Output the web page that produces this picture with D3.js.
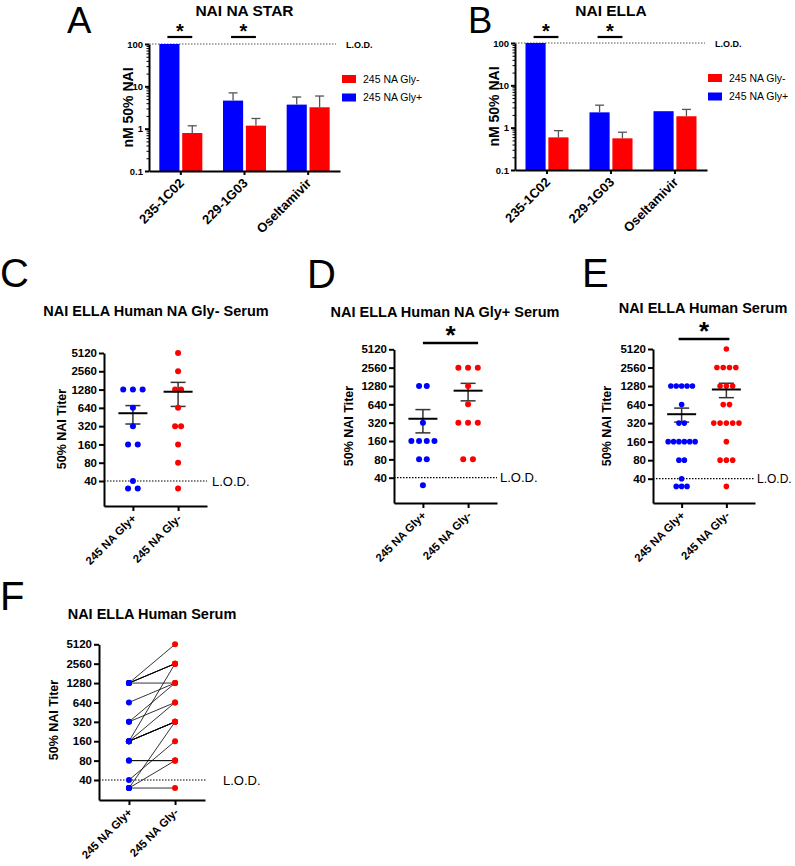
<!DOCTYPE html>
<html><head><meta charset="utf-8">
<script src="https://cdn.jsdelivr.net/npm/d3@7"></script>
<style>body{margin:0;background:#fff} svg{display:block}</style>
</head><body><svg id="chart" width="795" height="866"></svg>
<script>
// ---------- DATA ----------
const barCategories = ["235-1C02", "229-1G03", "Oseltamivir"];
const barTicks = [0.1, 1, 10, 100];
const starGlyPlus = [100, 4.6, 3.7];
const starGlyPlusErr = [0, 2.4, 1.9];
const starGlyMinus = [0.79, 1.18, 3.2];
const starGlyMinusErr = [0.38, 0.56, 2.7];
const ellaGlyPlus = [100, 2.3, 2.45];
const ellaGlyPlusErr = [0, 1.1, 0];
const ellaGlyMinus = [0.59, 0.56, 1.86];
const ellaGlyMinusErr = [0.26, 0.22, 0.84];
const seriesNames = ["245 NA Gly+", "245 NA Gly-"];
const titerTicks = [40, 80, 160, 320, 640, 1280, 2560, 5120];
// paired titers (same index = same serum); values below L.O.D. plotted as 30
const glyMinusSerumVsGlyPlus  = [1280, 1280, 1280, 640, 320, 160, 160, 40, 30, 30];
const glyMinusSerumVsGlyMinus = [5120, 2560, 1280, 1280, 640, 320, 320, 160, 80, 30];
const glyPlusSerumVsGlyPlus   = [1280, 1280, 320, 160, 160, 160, 160, 80, 80, 30];
const glyPlusSerumVsGlyMinus  = [2560, 2560, 1280, 2560, 640, 320, 320, 80, 80, 320];
const lodLabel = "L.O.D.";

// ---------- DRAWING ----------
const FONT = '"Liberation Sans", Arial, Helvetica, sans-serif';
const BLUE = "#0000ff", RED = "#ff0000";
const svg = d3.select("#chart").style("font-family", FONT);
svg.append("rect").attr("width", 795).attr("height", 866).attr("fill", "#fff");

function styleAxis(g, w, fs) {
  g.select(".domain").attr("stroke", "#000").attr("stroke-width", w);
  g.selectAll(".tick line").attr("stroke", "#000").attr("stroke-width", w);
  g.selectAll(".tick text").attr("font-family", FONT).attr("font-weight", "bold")
    .attr("fill", "#000").attr("font-size", fs);
}

function letter(txt, x, y, fs) {
  svg.append("text").attr("x", x).attr("y", y).attr("font-size", fs || 40).attr("fill", "#000").text(txt);
}

function barPanel(c) {
  const g = svg.append("g");
  const x = d3.scaleBand().domain(barCategories).range([c.xL, c.xR]);
  const sub = d3.scaleBand().domain(["plus", "minus"]).range([-21.5, 21.5]).paddingInner(0.12);
  const y = d3.scaleLog().domain([0.1, 100]).range([c.yBot, c.yTop]);
  const cx = d => x(d) + x.bandwidth() / 2;
  const series = [
    { key: "plus", vals: c.plus, errs: c.plusErr, color: BLUE },
    { key: "minus", vals: c.minus, errs: c.minusErr, color: RED }
  ];
  g.append("line").attr("x1", c.xL).attr("x2", c.lodEnd).attr("y1", y(100)).attr("y2", y(100))
    .attr("stroke", "#555").attr("stroke-width", 1).attr("stroke-dasharray", "1.5,1.5");
  g.append("text").attr("x", c.lodEnd + 10).attr("y", y(100) + 3.5).attr("font-size", 9)
    .attr("font-weight", "bold").text(lodLabel);
  series.forEach(s => {
    barCategories.forEach((cat, i) => {
      const bx = cx(cat) + sub(s.key);
      g.append("rect").attr("x", bx).attr("width", sub.bandwidth())
        .attr("y", y(s.vals[i])).attr("height", c.yBot - y(s.vals[i])).attr("fill", s.color);
      if (s.errs[i] > 0) {
        const mx = bx + sub.bandwidth() / 2;
        const ye = y(s.vals[i] + s.errs[i]);
        g.append("line").attr("x1", mx).attr("x2", mx).attr("y1", y(s.vals[i])).attr("y2", ye)
          .attr("stroke", "#555").attr("stroke-width", 1.3);
        g.append("line").attr("x1", mx - 4.5).attr("x2", mx + 4.5).attr("y1", ye).attr("y2", ye)
          .attr("stroke", "#555").attr("stroke-width", 1.3);
      }
    });
  });
  const minor = [];
  [0.1, 1, 10].forEach(d => { for (let k = 2; k <= 9; k++) minor.push(d * k); });
  g.append("g").attr("transform", `translate(${c.xL},0)`)
    .call(d3.axisLeft(y).tickValues(minor).tickSize(2.5).tickFormat(""))
    .call(a => { a.select(".domain").remove(); a.selectAll("line").attr("stroke", "#000").attr("stroke-width", 1); });
  const ya = g.append("g").attr("transform", `translate(${c.xL},0)`)
    .call(d3.axisLeft(y).tickValues(barTicks).tickFormat(d => d).tickSize(4).tickSizeOuter(0).tickPadding(2));
  styleAxis(ya, 2, 9.5);
  const xa = g.append("g").attr("transform", `translate(0,${c.yBot})`)
    .call(d3.axisBottom(x).tickSize(4).tickSizeOuter(0).tickFormat(""));
  styleAxis(xa, 2, 9);
  barCategories.forEach(cat => {
    g.append("text").attr("transform", `translate(${cx(cat) + 4},${c.yBot + 13}) rotate(-45)`)
      .attr("text-anchor", "end").attr("font-size", 13).attr("font-weight", "bold").text(cat);
  });
  g.append("text").attr("transform", `translate(${c.xL - 16},${(c.yTop + c.yBot) / 2}) rotate(-90)`)
    .attr("text-anchor", "middle").attr("font-size", 14).attr("font-weight", "bold").text("nM 50% NAI");
  g.append("text").attr("x", cx(barCategories[1])).attr("y", 15.5).attr("text-anchor", "middle")
    .attr("font-size", 15.5).attr("font-weight", "bold").text(c.title);
  c.sig.forEach(i => {
    const cat = barCategories[i];
    const a = cx(cat) + sub("plus") + sub.bandwidth() / 2 - 2;
    const b = cx(cat) + sub("minus") + sub.bandwidth() / 2;
    g.append("line").attr("x1", a).attr("x2", b).attr("y1", 37).attr("y2", 37)
      .attr("stroke", "#000").attr("stroke-width", 2.2);
    g.append("text").attr("x", (a + b) / 2).attr("y", 38).attr("text-anchor", "middle")
      .attr("font-size", 20).attr("font-weight", "bold").text("*");
  });
  [[seriesNames[1], RED], [seriesNames[0], BLUE]].forEach(([n, col], i) => {
    const ly = c.legY + i * 18.5;
    g.append("rect").attr("x", c.legX).attr("y", ly).attr("width", 14).attr("height", 8).attr("fill", col);
    g.append("text").attr("x", c.legX + 21).attr("y", ly + 7.5).attr("font-size", 10.5).text(n);
  });
}

function scatterPanel(c) {
  const g = svg.append("g");
  const x = d3.scalePoint().domain(seriesNames).range([c.xL, c.xR]).padding(c.pad);
  const y0 = d3.scaleLog().base(2).domain([40, 5120]).range([c.y40, c.yTop]);
  const y = d3.scaleLog().base(2).domain([y0.invert(c.yBot), 5120]).range([c.yBot, c.yTop]);
  g.append("line").attr("x1", c.xL).attr("x2", c.lodEnd).attr("y1", y(40)).attr("y2", y(40))
    .attr("stroke", "#000").attr("stroke-width", 1.2).attr("stroke-dasharray", "1.5,1.5");
  g.append("text").attr("x", c.lodX).attr("y", y(40) + 4.5).attr("font-size", c.lodFs || 13).text(lodLabel);
  const ya = g.append("g").attr("transform", `translate(${c.xL},0)`)
    .call(d3.axisLeft(y).tickValues(titerTicks).tickFormat(d3.format("d")).tickSize(5).tickSizeOuter(0).tickPadding(2));
  styleAxis(ya, 2, 11.5);
  const xa = g.append("g").attr("transform", `translate(0,${c.yBot})`)
    .call(d3.axisBottom(x).tickSize(5).tickSizeOuter(0).tickFormat(""));
  styleAxis(xa, 2, 11);
  seriesNames.forEach(n => {
    g.append("text").attr("transform", `translate(${x(n) + 4},${c.yBot + 13}) rotate(-45)`)
      .attr("text-anchor", "end").attr("font-size", 11.3).attr("font-weight", "bold").text(n);
  });
  g.append("text").attr("transform", `translate(${c.ylabX},${c.ylabY}) rotate(-90)`)
    .attr("text-anchor", "middle").attr("font-size", 12.5).attr("font-weight", "bold").text("50% NAI Titer");
  g.append("text").attr("x", c.titleX).attr("y", c.titleY).attr("text-anchor", "middle")
    .attr("font-size", 14.5).attr("font-weight", "bold").text(c.title);
  if (c.sigY) {
    const a = x(seriesNames[0]) + c.sigOff[0], b = x(seriesNames[1]) + c.sigOff[1];
    g.append("line").attr("x1", a).attr("x2", b).attr("y1", c.sigY).attr("y2", c.sigY)
      .attr("stroke", "#000").attr("stroke-width", 2.5);
    g.append("text").attr("x", (a + b) / 2).attr("y", c.sigY + 1).attr("text-anchor", "middle")
      .attr("font-size", 26).attr("font-weight", "bold").text("*");
  }
  const groups = [{ vals: c.plus, color: BLUE, sp: c.spPlus }, { vals: c.minus, color: RED, sp: c.spMinus }];
  if (c.paired) {
    c.plus.forEach((v, i) => {
      g.append("line").attr("x1", x(seriesNames[0])).attr("x2", x(seriesNames[1]))
        .attr("y1", y(v)).attr("y2", y(c.minus[i])).attr("stroke", "#000").attr("stroke-width", 0.8);
    });
    groups.forEach((gr, k) => {
      gr.vals.forEach(v => g.append("circle").attr("cx", x(seriesNames[k])).attr("cy", y(v))
        .attr("r", c.r).attr("fill", gr.color));
    });
    return;
  }
  groups.forEach((gr, k) => {
    const cxk = x(seriesNames[k]);
    const m = d3.mean(gr.vals), sem = d3.deviation(gr.vals) / Math.sqrt(gr.vals.length);
    g.append("line").attr("x1", cxk).attr("x2", cxk).attr("y1", y(m + sem)).attr("y2", y(m - sem))
      .attr("stroke", "#333").attr("stroke-width", 1.5);
    [m + sem, m - sem].forEach(v => g.append("line").attr("x1", cxk - 7.5).attr("x2", cxk + 7.5)
      .attr("y1", y(v)).attr("y2", y(v)).attr("stroke", "#333").attr("stroke-width", 1.5));
    const rows = d3.group(gr.vals, v => v);
    rows.forEach((arr, v) => {
      arr.forEach((_, i) => {
        g.append("circle").attr("cx", cxk + (i - (arr.length - 1) / 2) * gr.sp).attr("cy", y(v))
          .attr("r", c.r).attr("fill", gr.color);
      });
    });
    g.append("line").attr("x1", cxk - 14.5).attr("x2", cxk + 14.5).attr("y1", y(m)).attr("y2", y(m))
      .attr("stroke", "#000").attr("stroke-width", 2);
  });
}

letter("A", 67, 33, 36.5);
letter("B", 468, 33, 36.5);
letter("C", 0, 287);
letter("D", 307, 288);
letter("E", 582, 287);
letter("F", 0, 610);

barPanel({ xL: 149, xR: 340, yTop: 44, yBot: 171, lodEnd: 336, title: "NAI NA STAR",
  plus: starGlyPlus, plusErr: starGlyPlusErr, minus: starGlyMinus, minusErr: starGlyMinusErr,
  sig: [0, 1], legX: 342, legY: 75 });
barPanel({ xL: 515, xR: 707, yTop: 43, yBot: 170, lodEnd: 705, title: "NAI ELLA",
  plus: ellaGlyPlus, plusErr: ellaGlyPlusErr, minus: ellaGlyMinus, minusErr: ellaGlyMinusErr,
  sig: [0, 1], legX: 708, legY: 74 });

const allPlus = glyMinusSerumVsGlyPlus.concat(glyPlusSerumVsGlyPlus);
const allMinus = glyMinusSerumVsGlyMinus.concat(glyPlusSerumVsGlyMinus);

scatterPanel({ xL: 104, xR: 207, pad: 0.64, yTop: 353, y40: 481, yBot: 506, lodEnd: 207, lodX: 212,
  title: "NAI ELLA Human NA Gly- Serum", titleX: 156, titleY: 316, ylabX: 66, ylabY: 429,
  plus: glyMinusSerumVsGlyPlus, minus: glyMinusSerumVsGlyMinus, spPlus: 9.7, spMinus: 6, r: 3 });
scatterPanel({ xL: 394, xR: 497, pad: 0.64, yTop: 349.3, y40: 477.7, yBot: 503, lodEnd: 497, lodX: 500,
  title: "NAI ELLA Human NA Gly+ Serum", titleX: 445, titleY: 317, ylabX: 353, ylabY: 426,
  sigY: 343, sigOff: [0, 10],
  plus: glyPlusSerumVsGlyPlus, minus: glyPlusSerumVsGlyMinus, spPlus: 7.7, spMinus: 9.7, r: 3 });
scatterPanel({ xL: 653, xR: 755, pad: 0.64, yTop: 349, y40: 478.7, yBot: 503, lodEnd: 755, lodX: 757, lodFs: 12,
  title: "NAI ELLA Human Serum", titleX: 703, titleY: 313, ylabX: 611, ylabY: 426,
  sigY: 339, sigOff: [-3, 3],
  plus: allPlus, minus: allMinus, spPlus: 5.4, spMinus: 6.3, r: 2.8 });
scatterPanel({ xL: 99, xR: 205, pad: 0.65, yTop: 644.3, y40: 780, yBot: 800, lodEnd: 207, lodX: 223,
  title: "NAI ELLA Human Serum", titleX: 152, titleY: 619, ylabX: 58, ylabY: 720,
  plus: allPlus, minus: allMinus, paired: true, r: 3 });
</script></body></html>
